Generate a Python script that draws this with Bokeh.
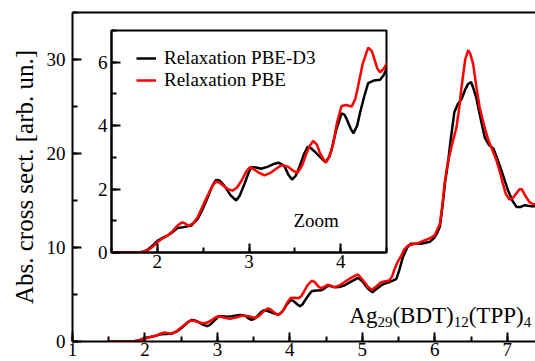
import numpy as np
from bokeh.plotting import figure
from bokeh.models import (Range1d, LinearAxis, SingleIntervalTicker, FixedTicker,
                          Legend, LegendItem, Label, GridBox)
from bokeh.embed import file_html
from bokeh.resources import INLINE

# ---------------- data ----------------
energy_d3 = [1.5, 1.80, 1.85, 1.90, 1.95, 2.00, 2.05, 2.11, 2.17, 2.22, 2.29, 2.37, 2.44, 2.50,
             2.55, 2.60, 2.64, 2.68, 2.73, 2.80, 2.86, 2.90, 2.95, 3.00, 3.03, 3.08, 3.13, 3.20,
             3.28, 3.32, 3.36, 3.39, 3.43, 3.47, 3.51, 3.55, 3.60, 3.64, 3.68, 3.72, 3.78, 3.83,
             3.87, 3.90, 3.95, 4.01, 4.04, 4.07, 4.11, 4.14, 4.18, 4.21, 4.26, 4.30, 4.36, 4.43,
             4.47, 4.52, 4.56, 4.61, 4.68, 4.75, 4.85, 4.94, 5.00, 5.03, 5.08, 5.14, 5.20, 5.26,
             5.32, 5.37, 5.43, 5.47, 5.51, 5.56, 5.62, 5.67, 5.75, 5.81, 5.87, 5.93, 5.99, 6.03,
             6.07, 6.11, 6.14, 6.18, 6.22, 6.27, 6.32, 6.37, 6.42, 6.46, 6.50, 6.53, 6.57, 6.63,
             6.69, 6.75, 6.81, 6.86, 6.92, 6.97, 7.01, 7.07, 7.13, 7.18, 7.24, 7.32, 7.40, 7.50]
cross_d3 = [0.0, 0.0, 0.03, 0.10, 0.22, 0.37, 0.45, 0.53, 0.65, 0.77, 0.80, 0.85, 1.06, 1.40,
            1.74, 2.10, 2.29, 2.27, 2.11, 1.80, 1.64, 1.80, 2.16, 2.55, 2.69, 2.68, 2.64, 2.70,
            2.80, 2.83, 2.78, 2.70, 2.45, 2.30, 2.42, 2.70, 3.10, 3.33, 3.28, 3.17, 3.00, 2.86,
            2.98, 3.23, 3.85, 4.39, 4.35, 4.18, 3.90, 3.76, 4.00, 4.39, 4.95, 5.34, 5.42, 5.45,
            5.60, 5.90, 5.90, 5.78, 5.80, 5.96, 6.40, 6.77, 6.40, 6.10, 5.60, 5.25, 5.60, 5.96,
            6.20, 6.31, 6.50, 6.67, 7.60, 8.97, 10.0, 10.4, 10.4, 10.4, 10.5, 10.6, 11.0, 11.5,
            12.2, 14.6, 16.8, 18.9, 21.5, 24.4, 25.3, 25.8, 26.8, 27.4, 27.6, 27.0, 26.0, 23.8,
            21.7, 20.9, 20.5, 19.5, 18.2, 17.0, 16.1, 15.0, 14.3, 14.3, 14.5, 14.4, 14.4, 14.5]

energy_pbe = [1.5, 1.82, 1.85, 1.90, 1.95, 2.00, 2.05, 2.11, 2.17, 2.22, 2.27, 2.30, 2.34, 2.39,
              2.44, 2.50, 2.55, 2.60, 2.64, 2.68, 2.73, 2.77, 2.82, 2.87, 2.92, 2.97, 3.01, 3.05,
              3.10, 3.17, 3.24, 3.30, 3.36, 3.43, 3.48, 3.53, 3.58, 3.62, 3.66, 3.70, 3.74, 3.77,
              3.81, 3.84, 3.88, 3.92, 3.96, 4.01, 4.06, 4.12, 4.16, 4.19, 4.24, 4.30, 4.34, 4.37,
              4.40, 4.43, 4.47, 4.52, 4.56, 4.61, 4.68, 4.75, 4.85, 4.94, 5.00, 5.03, 5.08, 5.13,
              5.20, 5.26, 5.32, 5.37, 5.41, 5.44, 5.49, 5.54, 5.58, 5.63, 5.70, 5.77, 5.84, 5.91,
              5.96, 6.00, 6.04, 6.07, 6.10, 6.14, 6.18, 6.23, 6.30, 6.34, 6.37, 6.42, 6.46, 6.49,
              6.53, 6.57, 6.62, 6.68, 6.74, 6.80, 6.85, 6.90, 6.94, 6.98, 7.03, 7.08, 7.13, 7.17,
              7.20, 7.25, 7.31, 7.36, 7.40, 7.50]
cross_pbe = [0.0, 0.0, 0.02, 0.08, 0.18, 0.32, 0.43, 0.53, 0.68, 0.85, 0.95, 0.92, 0.84, 0.92,
             1.11, 1.50, 1.80, 2.10, 2.24, 2.20, 2.08, 2.00, 1.95, 2.05, 2.27, 2.55, 2.69, 2.63,
             2.53, 2.43, 2.52, 2.65, 2.76, 2.70, 2.58, 2.51, 2.75, 3.07, 3.35, 3.52, 3.40, 3.17,
             2.95, 2.83, 3.05, 3.44, 4.10, 4.62, 4.65, 4.60, 4.85, 5.24, 5.95, 6.46, 6.35, 6.08,
             5.80, 5.68, 5.80, 6.03, 5.95, 5.78, 5.95, 6.31, 6.80, 7.13, 6.60, 6.31, 5.80, 5.50,
             5.90, 6.31, 6.40, 6.49, 6.90, 7.60, 8.50, 9.15, 9.80, 10.2, 10.35, 10.46, 10.7, 10.9,
             11.1, 11.3, 12.0, 12.5, 14.2, 17.1, 19.0, 20.7, 22.8, 25.0, 27.1, 30.0, 31.0, 30.6,
             29.5, 27.3, 24.9, 23.0, 21.4, 20.3, 19.3, 18.0, 16.8, 15.7, 15.1, 15.3, 15.8, 16.2,
             16.2, 15.5, 14.8, 14.6, 14.6, 14.6]

series_labels = ["Relaxation PBE-D3", "Relaxation PBE"]
ylabel = "Abs. cross sect. [arb. un.]"
inset_note = "Zoom"
formula_parts = [("Ag", False), ("29", True), ("(BDT)", False), ("12", True), ("(TPP)", False), ("4", True)]

assert len(energy_d3) == len(cross_d3)
assert len(energy_pbe) == len(cross_pbe)

FONT = "Liberation Serif"


def style_axis(ax, size="19px", standoff=4):
    ax.axis_line_width = 2
    ax.axis_line_color = "black"
    ax.major_tick_in = 9
    ax.major_tick_out = 0
    ax.minor_tick_in = 5
    ax.minor_tick_out = 0
    ax.major_tick_line_width = 2
    ax.minor_tick_line_width = 2
    ax.major_label_text_font = FONT
    ax.major_label_text_font_size = size
    ax.major_label_text_color = "black"
    ax.major_label_standoff = standoff


# ---------------- main figure ----------------
p = figure(width=535, height=361, x_range=Range1d(1, 7.39), y_range=Range1d(0, 35),
           output_backend="svg", toolbar_location=None,
           x_axis_type=None, y_axis_type=None,
           min_border_left=72, min_border_top=12, min_border_right=0, min_border_bottom=20)
p.outline_line_color = None
p.background_fill_color = "white"
p.border_fill_color = "white"

xa = LinearAxis(ticker=SingleIntervalTicker(interval=1, num_minor_ticks=2))
style_axis(xa, standoff=1)
p.add_layout(xa, "below")

ya = LinearAxis(ticker=SingleIntervalTicker(interval=10, num_minor_ticks=2))
style_axis(ya, standoff=7)
ya.axis_label = ylabel
ya.axis_label_text_font = FONT
ya.axis_label_text_font_size = "25px"
ya.axis_label_text_font_style = "normal"
ya.axis_label_text_color = "black"
ya.axis_label_standoff = 6
p.add_layout(ya, "left")

top = LinearAxis(ticker=FixedTicker(ticks=[]))
top.axis_line_width = 2
top.major_tick_line_color = None
top.minor_tick_line_color = None
top.major_label_text_font_size = "0px"
p.add_layout(top, "above")

p.line(energy_d3, cross_d3, line_color="black", line_width=2.5)
p.line(energy_pbe, cross_pbe, line_color="red", line_width=2.5)

# formula label with subscripts
x0, y0 = 4.82, 2.77
main_size, sub_size = 23, 15
offset = 0.0
widths = {"Ag": 1.222, "(BDT)": 2.666, "(TPP)": 2.389}
for txt, is_sub in formula_parts:
    fs = sub_size if is_sub else main_size
    p.add_layout(Label(x=x0, y=y0 - (0.7 if is_sub else 0.0), x_offset=offset, text=txt,
                       text_font=FONT, text_font_size=f"{fs}px", text_color="black",
                       text_baseline="alphabetic", text_align="left"))
    offset += widths.get(txt, 0.5 * len(txt)) * fs

# ---------------- inset figure ----------------
q = figure(frame_width=275, frame_height=222, x_range=Range1d(1.5, 4.5), y_range=Range1d(0, 7),
           output_backend="svg", toolbar_location=None,
           x_axis_type=None, y_axis_type=None,
           min_border_left=30, min_border_right=5, min_border_top=5, min_border_bottom=30)
q.border_fill_color = None
q.background_fill_color = "white"
q.outline_line_color = "black"
q.outline_line_width = 2

qx = LinearAxis(ticker=SingleIntervalTicker(interval=1, num_minor_ticks=2))
style_axis(qx, standoff=2)
q.add_layout(qx, "below")
qy = LinearAxis(ticker=SingleIntervalTicker(interval=2, num_minor_ticks=2))
style_axis(qy, standoff=4)
q.add_layout(qy, "left")

r1 = q.line(energy_d3, cross_d3, line_color="black", line_width=2.5)
r2 = q.line(energy_pbe, cross_pbe, line_color="red", line_width=2.5)

q.add_layout(Label(x=3.485, y=1.0, text=inset_note, text_font=FONT, text_font_size="19px",
                   text_color="black", text_baseline="alphabetic"))

legend = Legend(items=[LegendItem(label=series_labels[0], renderers=[r1]),
                       LegendItem(label=series_labels[1], renderers=[r2])],
                location=(25, 161), padding=0, margin=0, spacing=-6,
                glyph_width=20, glyph_height=18, label_height=18, label_standoff=8,
                label_text_font=FONT, label_text_font_size="19px", label_text_color="black",
                border_line_color=None, background_fill_alpha=0)
q.add_layout(legend)

grid = GridBox(children=[(p, 0, 0, 3, 3), (q, 1, 1, 1, 1)],
               rows=["25px", "257px", "79px"], cols=["81px", "310px", "144px"])

open("out.html", "w").write(file_html(grid, INLINE))
